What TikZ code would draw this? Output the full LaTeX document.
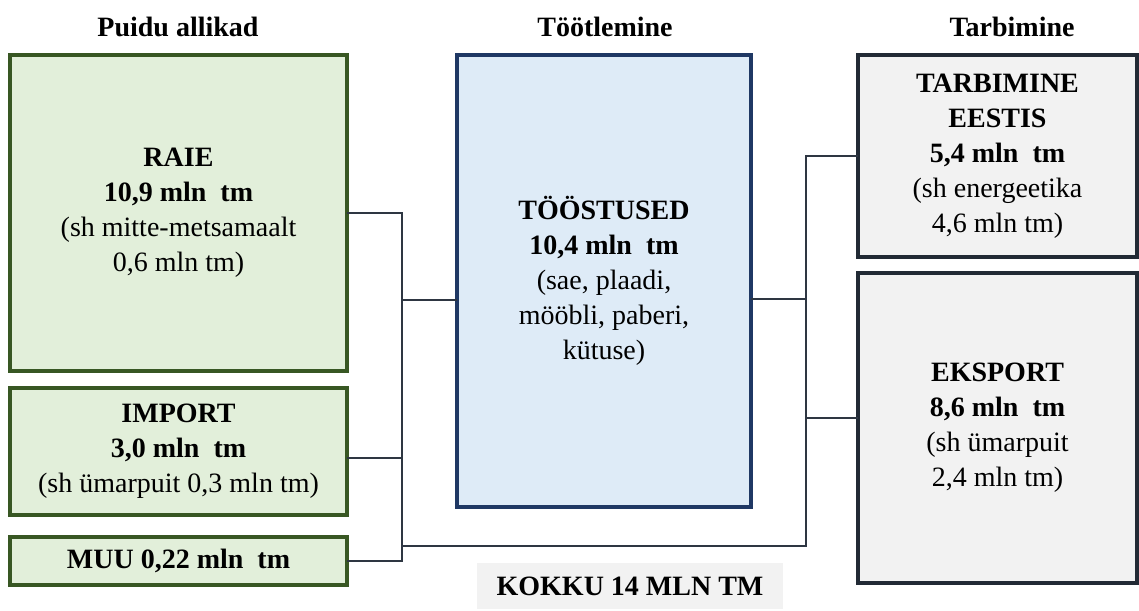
\documentclass[tikz,border=0pt]{standalone}
\usepackage{fontspec}
\setmainfont{Liberation Serif}
\usetikzlibrary{calc}
\definecolor{srcfill}{HTML}{E2EFDA}
\definecolor{srcdraw}{HTML}{385723}
\definecolor{indfill}{HTML}{DEEBF7}
\definecolor{inddraw}{HTML}{1F3864}
\definecolor{usefill}{HTML}{F2F2F2}
\definecolor{usedraw}{HTML}{222A35}
\definecolor{linkcol}{HTML}{2E3642}
\tikzset{
  every node/.style={font=\fontsize{28}{35}\selectfont, align=center, inner sep=0pt, outer sep=0pt},
  box/.style={rectangle, line width=3.2pt, anchor=center},
  srcbox/.style={box, fill=srcfill, draw=srcdraw},
  indbox/.style={box, fill=indfill, draw=inddraw},
  usebox/.style={box, fill=usefill, draw=usedraw},
  head/.style={font=\fontsize{28}{32}\selectfont\bfseries},
  conn/.style={draw=linkcol, line width=1.7pt}
}
\begin{document}
\begin{tikzpicture}[x=1pt, y=-1pt]
\useasboundingbox (0,0) rectangle (1139,610);

% column headings
\node[head] (h1) at (178,27) {Puidu allikad};
\node[head] (h2) at (605,27) {Töötlemine};
\node[head] (h3) at (1012,27) {Tarbimine};

% sources
\node[srcbox, minimum width=337pt, minimum height=316pt] (raie) at (178.5,213)
  {\textbf{RAIE}\\\textbf{10,9 mln\ \ tm}\\(sh mitte-metsamaalt\\0,6 mln tm)};
\node[srcbox, minimum width=337pt, minimum height=127pt] (import) at (178.5,451.5)
  {\textbf{IMPORT}\\\textbf{3,0 mln\ \ tm}\\(sh ümarpuit 0,3 mln tm)};
\node[srcbox, minimum width=337pt, minimum height=48pt] (muu) at (178.5,561)
  {\textbf{MUU 0,22 mln\ \ tm}};

% processing
\node[indbox, minimum width=294pt, minimum height=452pt] (tos) at (604,281)
  {\textbf{TÖÖSTUSED}\\\textbf{10,4 mln\ \ tm}\\(sae, plaadi,\\mööbli, paberi,\\kütuse)};

% consumption
\node[usebox, minimum width=279pt, minimum height=202pt] (tarb) at (997.5,156)
  {\textbf{TARBIMINE}\\\textbf{EESTIS}\\\textbf{5,4 mln\ \ tm}\\(sh energeetika\\4,6 mln tm)};
\node[usebox, minimum width=279pt, minimum height=310pt] (eks) at (997.5,428)
  {\textbf{EKSPORT}\\\textbf{8,6 mln\ \ tm}\\(sh ümarpuit\\2,4 mln tm)};

% total
\node[rectangle, fill=usefill, minimum width=306pt, minimum height=46pt] (kokku) at (630,586)
  {\textbf{KOKKU 14 MLN TM}};

% junction lines
\coordinate (jl) at (402,0);
\coordinate (jr) at (806,0);
\coordinate (bl) at (402,546);

\draw[conn] (raie.east) -- (raie.east -| jl) -- (muu.east -| jl) -- (muu.east);
\draw[conn] ([yshift=-6.5pt]import.east) -- ([yshift=-6.5pt]import.east -| jl);
\draw[conn] ([yshift=-19pt]tos.west) -- ([yshift=-19pt]tos.west -| jl);
\draw[conn] (bl) -- (bl -| jr) -- (tarb.west -| jr) -- (tarb.west);
\draw[conn] ([yshift=-18pt]tos.east) -- ([yshift=-18pt]tos.east -| jr);
\draw[conn] ([yshift=10pt]eks.west) -- ([yshift=10pt]eks.west -| jr);
\end{tikzpicture}
\end{document}
